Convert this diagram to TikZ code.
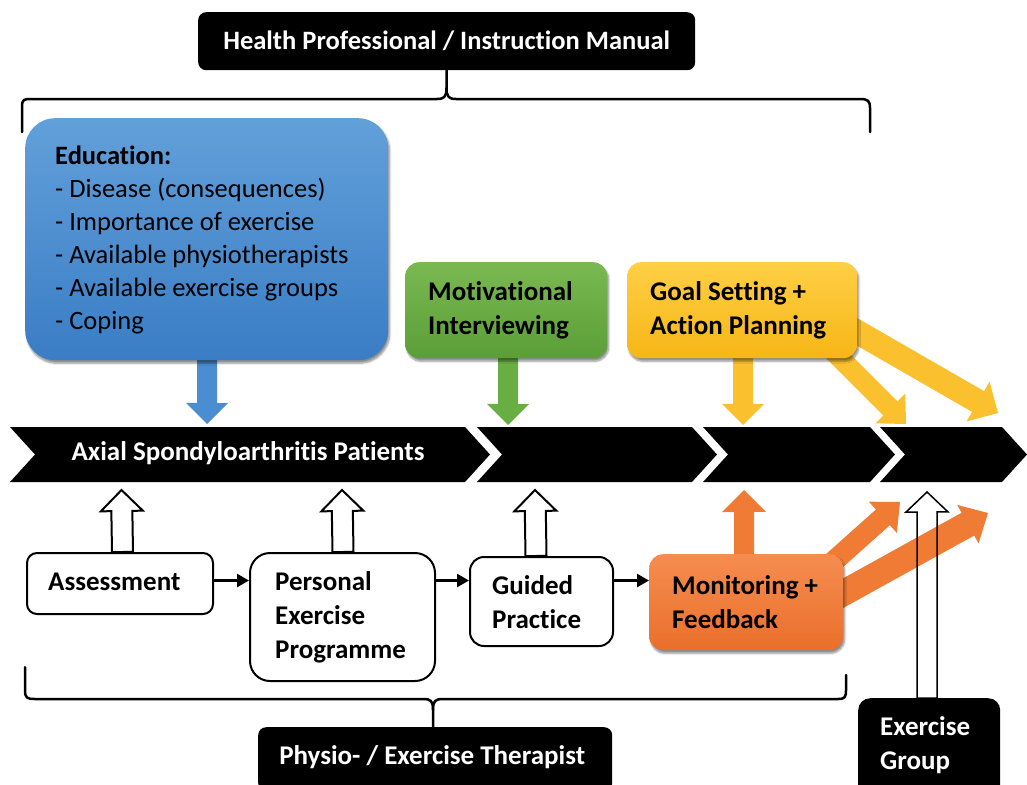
\documentclass[tikz,border=0pt]{standalone}
\usepackage{fontspec}
\setmainfont{Carlito}[Ligatures=NoCommon]
\usetikzlibrary{calc,shadows.blur,arrows.meta}
\pgfdeclarelayer{bg}
\pgfsetlayers{bg,main}
\definecolor{bluetop}{HTML}{62A0DA}
\definecolor{bluebot}{HTML}{3A7DC5}
\definecolor{greentop}{HTML}{7AB951}
\definecolor{greenbot}{HTML}{5B9E37}
\definecolor{yeltop}{HTML}{FFCF45}
\definecolor{yelbot}{HTML}{F6B616}
\definecolor{ortop}{HTML}{F58D50}
\definecolor{orbot}{HTML}{EA6F2B}
\definecolor{bluearr}{HTML}{4A8DD0}
\definecolor{greenarr}{HTML}{69AE42}
\definecolor{yelarr}{HTML}{FBC02D}
\definecolor{orarr}{HTML}{EF7B35}
\newcommand{\blockarr}[6]{%
  \coordinate (bas) at #2;
  \coordinate (bae) at #3;
  \coordinate (bah) at ($(bae)!#6!(bas)$);
  \path[#1] ($(bas)!#4!90:(bae)$) -- ($(bah)!#4!-90:(bas)$) -- ($(bah)!#5!-90:(bas)$) -- (bae) -- ($(bah)!#5!90:(bas)$) -- ($(bah)!#4!90:(bas)$) -- ($(bas)!#4!-90:(bae)$) -- cycle;
}
\tikzset{
  whitebox/.style={draw=black, line width=2pt, fill=white, anchor=north west, inner sep=0pt},
  colbox/.style={anchor=north west, inner sep=0pt, rounded corners=14pt,
     blur shadow={shadow xshift=1.5pt, shadow yshift=-3pt, shadow blur steps=6, shadow opacity=45}},
  blackbox/.style={fill=black, rounded corners=8pt, anchor=north west, inner sep=0pt},
  lbl/.style={inner sep=0pt, align=left, anchor=west, font=\fontsize{27}{34}\selectfont\bfseries},
  wlbl/.style={lbl, text=white},
  flow/.style={line width=2.5pt, -{Triangle[length=12pt,width=13pt]}},
  brace/.style={line width=2.5pt, line cap=round, line join=round},
  hollow/.style={draw=black, fill=white, line width=2pt, line join=miter},
  thinhollow/.style={draw=black, line width=1.5pt, line join=miter},
}
\begin{document}
\begin{tikzpicture}[x=1pt,y=-1pt]
\useasboundingbox (0,0) rectangle (1027,784);

% ---- top box and brace
\node[blackbox, minimum width=497pt, minimum height=58pt] (top) at (198,12) {};
\node[wlbl, anchor=center, font=\fontsize{26.5}{30}\selectfont\bfseries] (toptxt) at (top.center) {Health Professional / Instruction Manual};
\draw[brace] (22,132) -- (22,107) .. controls (22,99) and (24,99) .. (32,99) -- (437,99)
   .. controls (444,99) and (446.5,97) .. (446.5,88) -- (top.south);
\draw[brace] (446.5,88) .. controls (446.5,97) and (449,99) .. (456,99) -- (860,99)
   .. controls (868,99) and (870,101) .. (870,108) -- (870,132);

% ---- coloured boxes
\node[colbox, rounded corners=30pt, top color=bluetop, bottom color=bluebot,
      minimum width=363pt, minimum height=242pt] (edu) at (25,118) {};
\node[lbl, font=\fontsize{26.5}{33}\selectfont] (edutxt) at (55,240)
  {\textbf{Education:}\\- Disease (consequences)\\- Importance of exercise\\- Available physiotherapists\\- Available exercise groups\\- Coping};

\node[colbox, top color=greentop, bottom color=greenbot, minimum width=202pt, minimum height=96pt] (motiv) at (405,262) {};
\node[lbl] (motivtxt) at ($(motiv.west)+(23,0)$) {Motivational\\Interviewing};

\node[colbox, top color=yeltop, bottom color=yelbot, minimum width=230pt, minimum height=96pt] (goal) at (627,262) {};
\node[lbl] (goaltxt) at ($(goal.west)+(23,0)$) {Goal Setting +\\Action Planning};

\node[colbox, top color=ortop, bottom color=orbot, minimum width=194pt, minimum height=96pt] (mon) at (649,554) {};
\node[lbl] (montxt) at ($(mon.west)+(23,0)$) {Monitoring +\\Feedback};

% ---- free ends of connectors
\coordinate (tEdu) at (207,424);
\coordinate (tMot) at (508,425);
\coordinate (tGoal) at (743,425);
\coordinate (tA) at (906,424);
\coordinate (tB) at (998,413);
\coordinate (tMon) at (744,490);
\coordinate (tC) at (900,502);
\coordinate (tD) at (988,513);
\coordinate (tAss) at (121.5,490);
\coordinate (tPer) at (342,490);
\coordinate (tGui) at (535,490);
\coordinate (tExg) at (927,492);

% ---- coloured block arrows (behind boxes)
\begin{pgfonlayer}{bg}
\blockarr{fill=bluearr}{($(edu.south)+(0.5,-2)$)}{(tEdu)}{10pt}{21pt}{21pt}
\blockarr{fill=greenarr}{($(motiv.south)+(2,-2)$)}{(tMot)}{10pt}{21pt}{21pt}
\blockarr{fill=yelarr}{($(goal.south)+(1,-2)$)}{(tGoal)}{10pt}{21pt}{21pt}
\blockarr{fill=yelarr}{($(goal.south east)+(-29,-12)$)}{(tA)}{10pt}{21pt}{22pt}
\blockarr{fill=yelarr}{($(goal.east)+(-24,8)$)}{(tB)}{12pt}{23pt}{23pt}
\blockarr{fill=orarr}{($(mon.north)+(-2,2)$)}{(tMon)}{10pt}{22pt}{22pt}
\blockarr{fill=orarr}{($(mon.north east)+(-25,21)$)}{(tC)}{10.5pt}{21pt}{23pt}
\blockarr{fill=orarr}{($(mon.east)+(-13,-2)$)}{(tD)}{13pt}{22pt}{23pt}
\end{pgfonlayer}

% ---- chevron band
\fill (10,427) -- (465,427) -- (490,454.5) -- (465,482) -- (10,482) -- (35,454.5) -- cycle;
\fill (477,427) -- (692,427) -- (717,454.5) -- (692,482) -- (477,482) -- (502,454.5) -- cycle;
\fill (703,427) -- (870,427) -- (895,454.5) -- (870,482) -- (703,482) -- (728,454.5) -- cycle;
\fill (880,427) -- (1002,427) -- (1027,454.5) -- (1002,482) -- (880,482) -- (905,454.5) -- cycle;
\node[wlbl, anchor=center] (band) at (248,453) {Axial Spondyloarthritis Patients};

% ---- white boxes
\node[whitebox, rounded corners=10pt, minimum width=186pt, minimum height=61pt] (assess) at (26,552) {};
\node[lbl] (asstxt) at ($(assess.west)+(22,-2)$) {Assessment};
\node[whitebox, rounded corners=20pt, minimum width=185pt, minimum height=128pt] (pers) at (249,552) {};
\node[lbl] (perstxt) at ($(pers.west)+(26,0)$) {Personal\\Exercise\\Programme};
\node[whitebox, rounded corners=14pt, minimum width=143pt, minimum height=89pt] (guid) at (469,556) {};
\node[lbl] (guidtxt) at ($(guid.west)+(23,1)$) {Guided\\Practice};

% ---- bottom boxes
\node[blackbox, minimum width=354pt, minimum height=64pt] (physio) at (258,727) {};
\node[wlbl, anchor=center] (physiotxt) at ($(physio.center)+(-3,-2)$) {Physio- / Exercise Therapist};
\node[blackbox, rounded corners=12pt, minimum width=142pt, minimum height=100pt] (exg) at (858,698) {};
\node[wlbl] (exgtxt) at (880,745) {Exercise\\Group};

% ---- hollow arrows
\blockarr{hollow}{($(assess.north)+(2.5,0)$)}{(tAss)}{10.5pt}{21pt}{21pt}
\blockarr{hollow}{($(pers.north)+(0.5,0)$)}{(tPer)}{10.5pt}{21pt}{21pt}
\blockarr{hollow}{($(guid.north)+(-5.5,0)$)}{(tGui)}{10.5pt}{21pt}{21pt}
\blockarr{thinhollow}{($(exg.north)+(-2,0)$)}{(tExg)}{10pt}{21pt}{20pt}

% ---- flow arrows
\draw[flow] ($(assess.east)+(0,-3)$) -- ($(assess.east -| pers.west)+(0,-3)$);
\draw[flow] ($(pers.east |- assess.east)+(0,-3)$) -- ($(guid.west |- assess.east)+(0,-3)$);
\draw[flow] ($(guid.east |- assess.east)+(0,-3)$) -- ($(mon.west |- assess.east)+(0,-3)$);

% ---- bottom brace
\draw[brace] (25,667) -- (25,690) .. controls (25,698) and (27,699) .. (35,699) -- (423,699)
   .. controls (431,699) and (433,701) .. (433,710) -- (physio.north -| 433,0);
\draw[brace] (433,710) .. controls (433,701) and (435,699) .. (443,699) -- (838,699)
   .. controls (845,699) and (846,697) .. (846,690) -- (846,675);
\end{tikzpicture}
\end{document}
